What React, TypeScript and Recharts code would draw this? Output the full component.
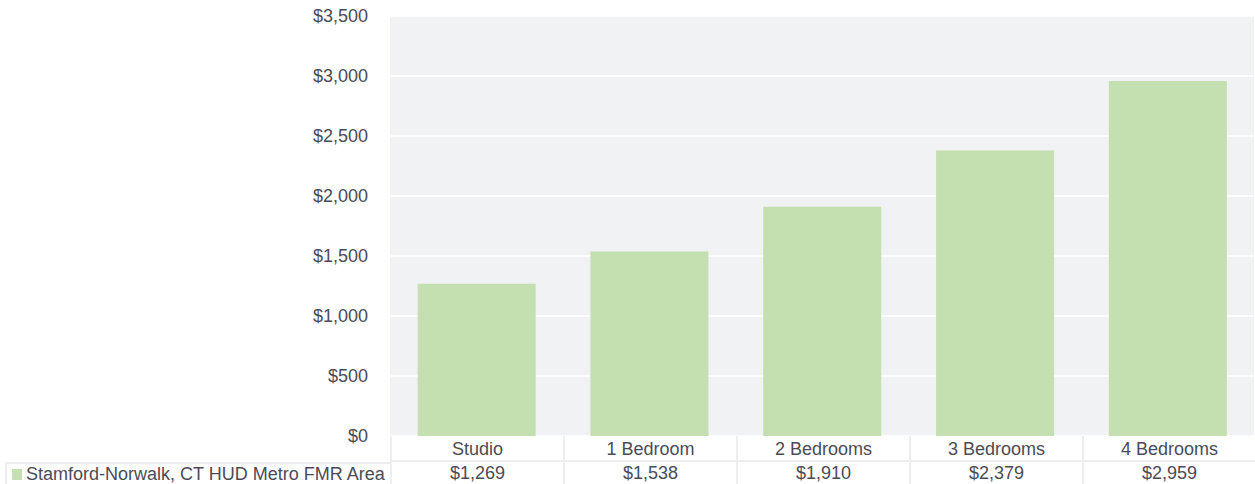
import React from 'react';
import { BarChart, Bar, XAxis, YAxis, CartesianGrid } from 'recharts';

const categories = ['Studio', '1 Bedroom', '2 Bedrooms', '3 Bedrooms', '4 Bedrooms'];
const values = [1269, 1538, 1910, 2379, 2959];
const yTicks = [0, 500, 1000, 1500, 2000, 2500, 3000, 3500];
const seriesName = 'Stamford-Norwalk, CT HUD Metro FMR Area';

const data = categories.map((c, i) => ({ name: c, value: values[i] }));

const FONT = '"Liberation Sans", Arial, sans-serif';
const TEXT = '#4b4b57';
const BAR = '#c5e0b0';
const BORDER = '#eceef0';
const FS = 18;

const fmt = (v: number) => '$' + v.toLocaleString('en-US');

const W = 1255;
const H = 484;
const LEFT = 390;
const PLOT_TOP = 16;
const PLOT_BOTTOM = 436;
const ROW = 26;

export default function App() {
  const colW = (W - LEFT) / categories.length;
  return (
    <div style={{ position: 'absolute', left: 0, top: 0, width: W, height: H, background: '#fff', fontFamily: FONT }}>
      <BarChart
        width={W}
        height={H}
        data={data}
        margin={{ top: PLOT_TOP, right: 1, left: 0, bottom: H - PLOT_BOTTOM }}
        barCategoryGap="16%"
      >
        <CartesianGrid vertical={false} stroke="#ffffff" strokeWidth={1.5} fill="#f1f2f4" />
        <XAxis dataKey="name" hide />
        <YAxis
          width={LEFT}
          domain={[0, 3500]}
          ticks={yTicks}
          tickFormatter={fmt}
          axisLine={false}
          tickLine={false}
          tickSize={0}
          tickMargin={22}
          tick={{ fill: TEXT, fontSize: FS, fontFamily: FONT }}
          interval={0}
        />
        <Bar dataKey="value" fill={BAR} isAnimationActive={false} />
      </BarChart>
      {/* data table */}
      {categories.map((c, i) => (
        <div
          key={c}
          style={{
            position: 'absolute',
            left: LEFT + i * colW,
            top: PLOT_BOTTOM,
            width: colW,
            height: ROW,
            borderLeft: `2px solid ${BORDER}`,
            borderBottom: `2px solid ${BORDER}`,
            boxSizing: 'border-box',
            textAlign: 'center',
            lineHeight: `${ROW}px`,
            fontSize: FS,
            color: TEXT,
          }}
        >
          {c}
        </div>
      ))}
      <div
        style={{
          position: 'absolute',
          left: 5,
          top: PLOT_BOTTOM + ROW,
          width: LEFT - 5,
          height: H - PLOT_BOTTOM - ROW,
          borderLeft: `2px solid ${BORDER}`,
          borderTop: `2px solid ${BORDER}`,
          boxSizing: 'border-box',
          fontSize: FS,
          color: TEXT,
          lineHeight: '22px',
          whiteSpace: 'nowrap',
          display: 'flex',
          alignItems: 'center',
        }}
      >
        <span style={{ display: 'inline-block', width: 10, height: 11, background: BAR, marginLeft: 5, marginRight: 4 }} />
        {seriesName}
      </div>
      {values.map((v, i) => (
        <div
          key={i}
          style={{
            position: 'absolute',
            left: LEFT + i * colW,
            top: PLOT_BOTTOM + ROW,
            width: colW,
            height: H - PLOT_BOTTOM - ROW,
            borderLeft: `2px solid ${BORDER}`,
            boxSizing: 'border-box',
            textAlign: 'center',
            lineHeight: '22px',
            fontSize: FS,
            color: TEXT,
          }}
        >
          {fmt(v)}
        </div>
      ))}
    </div>
  );
}
